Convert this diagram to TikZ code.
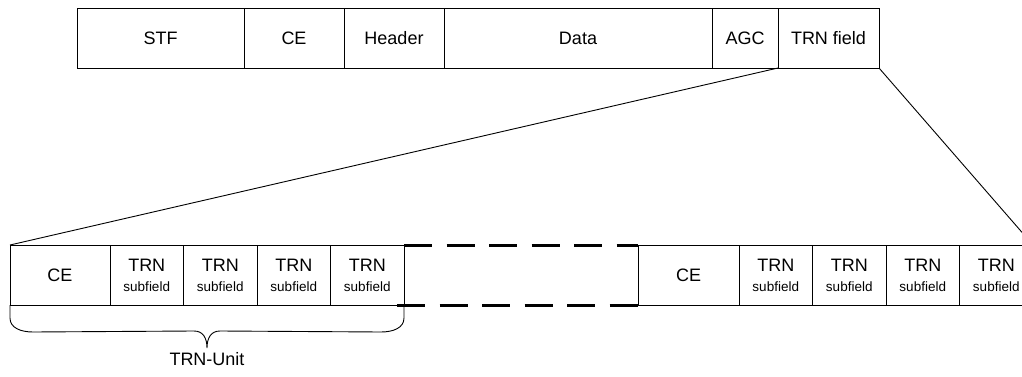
\documentclass[tikz,border=0pt]{standalone}
\usepackage{fontspec}
\setmainfont{Liberation Sans}
\usetikzlibrary{positioning, calc}

\newcommand{\trnsub}{TRN\\{\fontsize{13.5}{20}\selectfont subfield}}

\begin{document}
\begin{tikzpicture}[
      x=1pt, y=-1pt,
      node distance=0pt,
      fld/.style={rectangle, draw=black, line width=0.9pt, outer sep=0pt,
                  inner sep=0pt, minimum height=60pt, align=center,
                  font=\fontsize{18}{20}\selectfont},
      sub/.style={fld, minimum width=73.5pt},
      gap/.style={line width=3pt, dash pattern=on 28pt off 14.5pt},
      thin/.style={line width=0.9pt}
    ]
    \useasboundingbox (0,0) rectangle (1022,377);

    % frame on top
    \node[fld, minimum width=167pt, anchor=north west] (stf) at (77,8) {STF};
    \node[fld, minimum width=100pt, right=of stf]  (ce)   {CE};
    \node[fld, minimum width=100pt, right=of ce]   (hdr)  {Header};
    \node[fld, minimum width=268pt, right=of hdr]  (data) {Data};
    \node[fld, minimum width=66pt,  right=of data] (agc)  {AGC};
    \node[fld, minimum width=101pt, right=of agc]  (trn)  {TRN field};

    % TRN field, first unit
    \node[fld, minimum width=100pt, anchor=north west] (unitce) at (10,245) {CE};
    \node[sub, right=of unitce] (sf1) {\trnsub};
    \node[sub, right=of sf1]    (sf2) {\trnsub};
    \node[sub, right=of sf2]    (sf3) {\trnsub};
    \node[sub, right=of sf3]    (sf4) {\trnsub};

    % last unit
    \node[fld, minimum width=101pt, anchor=north west] (lastce) at (638,245) {CE};
    \node[sub, right=of lastce] (sf5) {\trnsub};
    \node[sub, right=of sf5]    (sf6) {\trnsub};
    \node[sub, right=of sf6]    (sf7) {\trnsub};
    \node[sub, right=of sf7]    (sf8) {\trnsub};

    \draw[gap] (sf4.north east) -- (lastce.north west);
    \draw[gap] ([xshift=-7pt]sf4.south east) -- (lastce.south west);

    \draw[thin] (trn.south west) -- (unitce.north west);
    \draw[thin] (trn.south east) -- (sf8.north east);

    % brace under one unit
    \coordinate (tip) at ($(unitce.south west)!0.5!(sf4.south east)+(0,43)$);
    \draw[thin] (unitce.south west) -- ++(0,13)
      .. controls +(0,10) and +(-12,0) .. ++(23,14)
      -- ($(tip)+(-13,-17)$) .. controls +(9,0) and +(0,-10) .. (tip)
      .. controls +(0,-10) and +(-9,0) .. ($(tip)+(13,-17)$)
      -- ($(sf4.south east)+(-23,27)$) .. controls +(12,0) and +(0,10) .. ($(sf4.south east)+(0,13)$)
      -- (sf4.south east);
    \node[inner sep=0pt, font=\fontsize{18}{20}\selectfont, below=4pt of tip] (unit) {TRN-Unit};
\end{tikzpicture}
\end{document}
